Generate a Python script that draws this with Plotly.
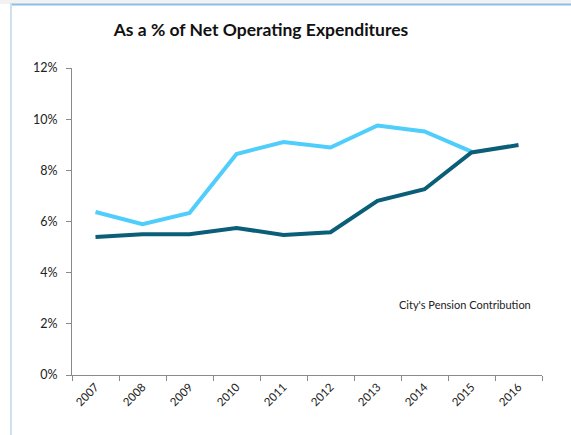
import plotly.graph_objects as go

years = ["2007", "2008", "2009", "2010", "2011", "2012", "2013", "2014", "2015", "2016"]
light_series = [0.0637, 0.0589, 0.0633, 0.0864, 0.0911, 0.0889, 0.0975, 0.0952, 0.0873, None]
dark_series = [0.0539, 0.0550, 0.0550, 0.0575, 0.0547, 0.0558, 0.0681, 0.0726, 0.0870, 0.0899]
y_ticks = [0, 0.02, 0.04, 0.06, 0.08, 0.10, 0.12]
y_tick_labels = ["0%", "2%", "4%", "6%", "8%", "10%", "12%"]

W, H = 571, 435
L, R, T, B = 72, 29, 68, 60
PW, PH = W - L - R, H - T - B


def px_x(px):
    return (px - L) / PW


def px_y(py):
    return (H - B - py) / PH


fig = go.Figure()
fig.add_trace(go.Scatter(x=years, y=light_series, mode="lines",
                         line=dict(color="#4fcdfb", width=4), showlegend=False,
                         connectgaps=False))
fig.add_trace(go.Scatter(x=years, y=dark_series, mode="lines",
                         line=dict(color="#0b5e78", width=4), showlegend=False))

fig.update_layout(
    width=W, height=H,
    margin=dict(l=L, r=R, t=T, b=B),
    paper_bgcolor="white", plot_bgcolor="white",
    font=dict(family="Lato, Liberation Sans, Arial, sans-serif", size=11, color="#222222"),
    title=dict(text="<b>As a % of Net Operating Expenditures</b>",
               x=261 / W, xanchor="center", xref="container",
               y=1 - 30 / H, yanchor="middle", yref="container",
               font=dict(size=17.5, color="#111111")),
    xaxis=dict(type="category", tickson="boundaries", ticks="outside", ticklen=5,
               tickcolor="#8a8a8a", showline=True, linecolor="#8a8a8a", linewidth=1,
               showgrid=False, tickangle=-45, tickfont=dict(size=11.5),
               range=[-0.5, 9.5]),
    yaxis=dict(range=[0, 0.12], tickvals=y_ticks, ticktext=y_tick_labels,
               ticks="outside", ticklen=5, tickcolor="#8a8a8a",
               showline=True, linecolor="#8a8a8a", linewidth=1,
               showgrid=False, zeroline=False, tickfont=dict(size=12.5, color="#222222"),
               ticklabelstandoff=6),
    annotations=[dict(text="City's Pension Contribution", xref="paper", yref="paper",
                      x=px_x(397), y=px_y(304), xanchor="left", yanchor="middle",
                      showarrow=False, font=dict(size=11, color="#222222"))],
    shapes=[
        dict(type="rect", xref="paper", yref="paper", x0=px_x(0), x1=px_x(W),
             y0=px_y(4), y1=px_y(0),
             fillcolor="#f2f2f2", line=dict(width=0), layer="above"),
        dict(type="line", xref="paper", yref="paper", x0=px_x(10.5), x1=px_x(W),
             y0=px_y(4.5), y1=px_y(4.5), line=dict(color="#8fbde6", width=2),
             layer="above"),
        dict(type="line", xref="paper", yref="paper", x0=px_x(11), x1=px_x(11),
             y0=px_y(H), y1=px_y(4), line=dict(color="#cfe0f0", width=2)),
    ],
)

fig.write_html("out.html", config={"displayModeBar": False},
               post_script="document.body.style.margin='0';document.body.style.overflow='hidden';")
